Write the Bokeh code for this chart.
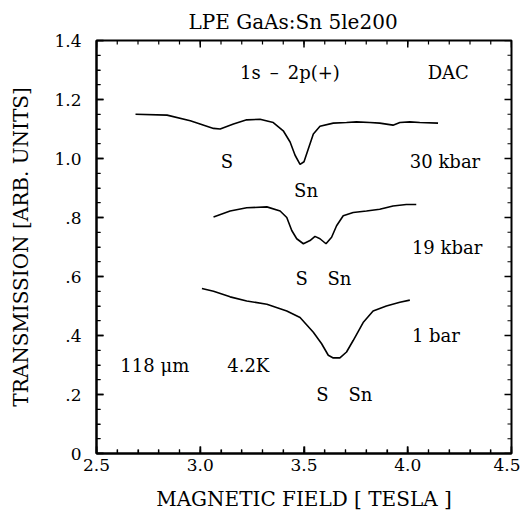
import numpy as np
from bokeh.plotting import figure
from bokeh.models import (Range1d, LinearAxis, FixedTicker,
                          CustomJSTickFormatter, ColumnDataSource)
from bokeh.core.properties import value
from bokeh.embed import file_html
from bokeh.resources import INLINE

FONT = "DejaVu Serif"

# ---- data ----
b_30kbar = [2.688, 2.840, 2.952, 3.064, 3.096, 3.160, 3.224, 3.288, 3.352, 3.400,
            3.433, 3.457, 3.481, 3.500, 3.521, 3.545, 3.577, 3.641, 3.705, 3.753,
            3.817, 3.865, 3.929, 3.962, 4.010, 4.058, 4.146]
t_30kbar = [1.150, 1.147, 1.128, 1.102, 1.100, 1.117, 1.131, 1.133, 1.122, 1.094,
            1.056, 1.011, 0.980, 0.989, 1.033, 1.083, 1.109, 1.120, 1.122, 1.124,
            1.122, 1.120, 1.113, 1.122, 1.124, 1.122, 1.120]

b_19kbar = [3.064, 3.144, 3.224, 3.321, 3.385, 3.417, 3.441, 3.465, 3.497, 3.529,
            3.553, 3.577, 3.606, 3.633, 3.657, 3.689, 3.737, 3.801, 3.865, 3.929,
            3.993, 4.041]
t_19kbar = [0.802, 0.822, 0.833, 0.836, 0.822, 0.800, 0.756, 0.728, 0.711, 0.722,
            0.736, 0.728, 0.711, 0.733, 0.772, 0.806, 0.817, 0.822, 0.828, 0.839,
            0.844, 0.844]

b_1bar = [3.008, 3.064, 3.144, 3.224, 3.321, 3.417, 3.481, 3.545, 3.585, 3.617,
          3.641, 3.673, 3.705, 3.737, 3.785, 3.833, 3.897, 3.962, 4.010]
t_1bar = [0.559, 0.550, 0.531, 0.517, 0.506, 0.483, 0.461, 0.411, 0.372, 0.333,
          0.324, 0.324, 0.344, 0.383, 0.444, 0.483, 0.500, 0.513, 0.520]

ann_text = ["1s\u2002\u2013\u20022p(+)", "DAC", "S", "Sn", "30 kbar",
            "19 kbar", "S", "Sn", "1 bar", "118 \u03bcm", "4.2K", "S", "Sn"]
ann_x = [3.192, 4.096, 3.128, 3.510, 4.010, 4.020, 3.489, 3.671,
         4.020, 2.615, 3.130, 3.589, 3.772]
ann_y = [1.293, 1.293, 0.990, 0.890, 0.990, 0.700, 0.594, 0.594,
         0.400, 0.300, 0.300, 0.200, 0.200]
ann_align = ["left", "left", "center", "center", "left", "left", "center", "center",
             "left", "left", "left", "center", "center"]

x_major = [2.5, 3.0, 3.5, 4.0, 4.5]
y_major = [0.0, 0.2, 0.4, 0.6, 0.8, 1.0, 1.2, 1.4]
x_minor = [round(v, 2) for v in np.arange(2.5, 4.501, 0.1)]
y_minor = [round(v, 2) for v in np.arange(0.0, 1.401, 0.05)]

title_text = "LPE GaAs:Sn 5le200"
x_label = "MAGNETIC FIELD [ TESLA ]"
y_label = "TRANSMISSION [ARB. UNITS]"

X0, X1 = 2.5, 4.5
Y0, Y1 = 0.0, 1.4
W, H = 520, 513
BL, BR, BT, BB = 96, 9, 40, 53

p = figure(width=W, height=H, output_backend="svg", toolbar_location=None,
           x_range=Range1d(X0, X1), y_range=Range1d(Y0, Y1),
           min_border_left=BL, min_border_right=BR, min_border_top=BT,
           min_border_bottom=BB, x_axis_location=None, y_axis_location=None)
p.grid.visible = False
p.outline_line_color = "black"
p.outline_line_width = 2

p.title.text = title_text
p.title.align = "left"
p.title.offset = 92
p.title.standoff = 14
p.title.text_font = FONT
p.title.text_font_size = "20px"
p.title.text_font_style = "normal"
p.title.text_color = "black"

yfmt = CustomJSTickFormatter(code="""
if (Math.abs(tick) < 1e-9) return "0";
var s = tick.toFixed(1);
if (tick < 1) s = s.replace(/^0/, "");
return s;
""")
xfmt = CustomJSTickFormatter(code="return tick.toFixed(1);")

def style(ax):
    ax.axis_line_color = "black"
    ax.axis_line_width = 2
    ax.major_tick_in = 7
    ax.major_tick_out = 0
    ax.minor_tick_in = 4
    ax.minor_tick_out = 0
    ax.major_tick_line_width = 1.5
    ax.minor_tick_line_width = 1.2
    ax.major_label_text_font = FONT
    ax.major_label_text_font_size = "17px"
    ax.major_label_text_color = "black"
    ax.axis_label_text_font = FONT
    ax.axis_label_text_font_size = "20px"
    ax.axis_label_text_font_style = "normal"
    ax.axis_label_text_color = "black"

xb = LinearAxis(ticker=FixedTicker(ticks=x_major, minor_ticks=x_minor),
                formatter=xfmt, axis_label=x_label)
style(xb)
xb.major_label_standoff = 5
xb.axis_label_standoff = 13
p.add_layout(xb, "below")

yl = LinearAxis(ticker=FixedTicker(ticks=y_major, minor_ticks=y_minor),
                formatter=yfmt, axis_label=y_label)
style(yl)
yl.major_label_standoff = 15
yl.axis_label_standoff = 18
p.add_layout(yl, "left")

# inward tick marks on all four sides, as short data-space line pieces
dx = (X1 - X0) / (W - BL - BR)   # data units per pixel, x
dy = (Y1 - Y0) / (H - BT - BB)   # data units per pixel, y

def tick_lines(vals, ln, width):
    xs, ys = [], []
    for v in vals:
        xs += [[v, v], [v, v]]
        ys += [[Y0, Y0 + ln * dy], [Y1, Y1 - ln * dy]]
    p.multi_line(xs, ys, line_color="black", line_width=width)

def ytick_lines(vals, ln, width):
    xs, ys = [], []
    for v in vals:
        xs += [[X0, X0 + ln * dx], [X1, X1 - ln * dx]]
        ys += [[v, v], [v, v]]
    p.multi_line(xs, ys, line_color="black", line_width=width)

tick_lines(x_major, 7, 1.5)
tick_lines(x_minor, 4, 1.2)
ytick_lines(y_major, 7, 1.5)
ytick_lines(y_minor, 4, 1.2)

for bx, ty in [(b_30kbar, t_30kbar), (b_19kbar, t_19kbar), (b_1bar, t_1bar)]:
    p.line(bx, ty, line_color="black", line_width=1.6)

src = ColumnDataSource(dict(x=ann_x, y=ann_y, t=ann_text, a=ann_align))
p.text(x="x", y="y", text="t", text_align="a", source=src,
       text_baseline="middle", text_font=value(FONT), text_font_size="18px",
       text_color="black")

open("out.html", "w").write(file_html(p, INLINE))
